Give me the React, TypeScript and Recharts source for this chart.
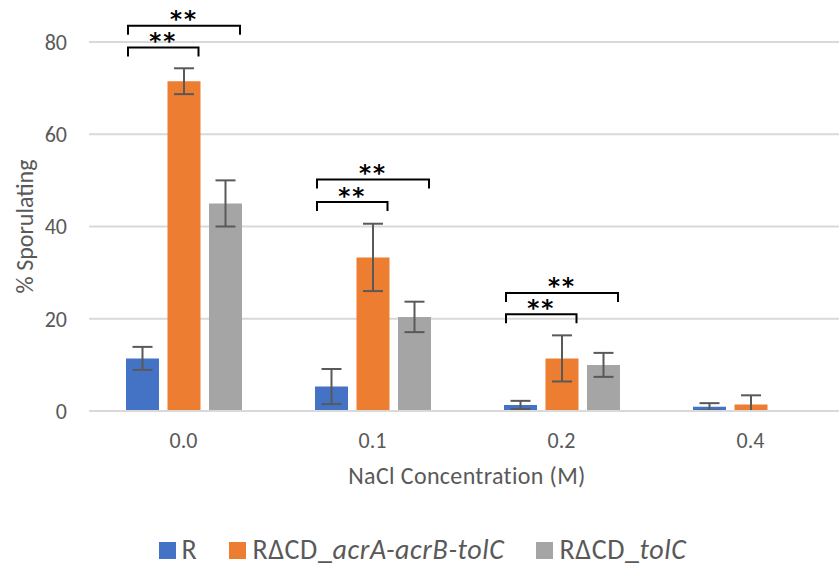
import React from 'react';
import { BarChart, Bar, XAxis, YAxis, CartesianGrid, ErrorBar, Legend, LabelList } from 'recharts';

const categories = ['0.0', '0.1', '0.2', '0.4'];
const rValues = [11.4, 5.3, 1.3, 0.9];
const rErrors = [2.5, 3.8, 0.9, 0.8];
const acrValues = [71.5, 33.3, 11.4, 1.4];
const acrErrors = [2.8, 7.3, 5.0, 2.0];
const tolValues = [45.0, 20.4, 10.0, 0];
const tolErrors = [5.0, 3.3, 2.6, 0];
const yTicks = [0, 20, 40, 60, 80];

// significance brackets: group, compared bar, height (% units)
const bracketConc = ['0.0', '0.0', '0.1', '0.1', '0.2', '0.2'];
const bracketTo = ['acr', 'tol', 'acr', 'tol', 'acr', 'tol'];
const bracketLevel = [78.8, 83.5, 45.3, 50.2, 21.0, 25.6];
const bracketMark = ['**', '**', '**', '**', '**', '**'];

const BLUE = '#4472C4';
const ORANGE = '#ED7D31';
const GRAY = '#A5A5A5';
const TEXT = '#595959';
const BAR_SIZE = 33;
const BAR_GAP = 8.5;

const clampErr = (v: number, e: number) => [Math.min(v, e), e];

const data = categories.map((conc, i) => ({
  conc,
  r: rValues[i],
  rErr: clampErr(rValues[i], rErrors[i]),
  acr: acrValues[i],
  acrErr: acrErrors[i] ? clampErr(acrValues[i], acrErrors[i]) : 0,
  tol: tolValues[i],
  tolErr: tolErrors[i] ? clampErr(tolValues[i], tolErrors[i]) : 0,
}));

const renderBrackets = (props: any) => {
  const vb = props.viewBox && props.viewBox.width !== undefined ? props.viewBox : props;
  const x = Number(vb.x);
  const y = Number(vb.y);
  const width = Number(vb.width);
  const height = Number(vb.height);
  const i = categories.indexOf(props.value);
  const v = acrValues[i];
  if (!v || !height) return null;
  const zero = y + height;
  const k = height / v;
  const items = bracketConc
    .map((c, j) => ({ c, j }))
    .filter(b => b.c === props.value);
  return (
    <g>
      {items.map(({ j }) => {
        const left = x - BAR_GAP - width + 2;
        const right = bracketTo[j] === 'acr' ? x + width - 2 : x + 2 * width + BAR_GAP - 2;
        const ly = zero - bracketLevel[j] * k;
        return (
          <g key={j}>
            <path d={`M${left},${ly + 9}V${ly}H${right}V${ly + 9}`} fill="none" stroke="#000" strokeWidth={2} />
            <text
              x={(left + right) / 2}
              y={ly + 1.5}
              textAnchor="middle"
              fontSize={23}
              fontWeight="bold"
              letterSpacing={2}
              fontFamily="'DejaVu Sans', sans-serif"
              fill="#000"
            >
              {bracketMark[j]}
            </text>
          </g>
        );
      })}
    </g>
  );
};

const legendItems = [
  { color: BLUE, plain: 'R', italic: '' },
  { color: ORANGE, plain: 'RΔCD_', italic: 'acrA-acrB-tolC' },
  { color: GRAY, plain: 'RΔCD_', italic: 'tolC' },
];

const renderLegend = () => (
  <div style={{ height: 44, boxSizing: 'border-box', display: 'flex', justifyContent: 'center', alignItems: 'flex-end' }}>
    <div style={{ display: 'flex', alignItems: 'center', position: 'relative', top: -2 }}>
      {legendItems.map((it, i) => (
        <div key={i} style={{ display: 'flex', alignItems: 'center', marginRight: i < 2 ? 32 : 0 }}>
          <span style={{ width: 17, height: 17, background: it.color, display: 'inline-block', marginRight: 6 }} />
          <span style={{ fontSize: 28, letterSpacing: 0.6, color: TEXT, lineHeight: '30px', whiteSpace: 'nowrap' }}>
            {it.plain}
            {it.italic && <i>{it.italic}</i>}
          </span>
        </div>
      ))}
    </div>
  </div>
);

export default function App() {
  return (
    <div style={{ position: 'absolute', left: 0, top: 0, width: 839, height: 567, overflow: 'hidden', background: '#fff', fontFamily: 'Carlito, Lato, sans-serif' }}>
      <BarChart
        width={850}
        height={567}
        data={data}
        margin={{ top: 42, right: 5, bottom: 0, left: 0 }}
        barGap={BAR_GAP}
        barSize={BAR_SIZE}
      >
        <CartesianGrid vertical={false} stroke="#D9D9D9" strokeWidth={2} />
        <XAxis
          dataKey="conc"
          height={112}
          tickLine={false}
          tickSize={0}
          tickMargin={21}
          axisLine={{ stroke: '#D9D9D9', strokeWidth: 2 }}
          tick={{ fill: TEXT, fontSize: 22 }}
          label={{ value: 'NaCl Concentration (M)', position: 'insideBottom', offset: 39, fill: TEXT, fontSize: 24, style: { letterSpacing: 0.35 } }}
        />
        <YAxis
          width={89}
          domain={[0, 80]}
          ticks={yTicks}
          axisLine={false}
          tickLine={false}
          tickSize={0}
          tickMargin={22}
          tick={{ fill: TEXT, fontSize: 22 }}
          label={{ value: '% Sporulating', angle: -90, position: 'insideLeft', offset: 24, fill: TEXT, fontSize: 24, style: { textAnchor: 'middle' } }}
        />
        <Legend verticalAlign="bottom" content={renderLegend} />
        <Bar dataKey="r" name="R" fill={BLUE} isAnimationActive={false}>
          <ErrorBar dataKey="rErr" width={10} stroke={TEXT} strokeWidth={2} />
        </Bar>
        <Bar dataKey="acr" name="RΔCD_acrA-acrB-tolC" fill={ORANGE} isAnimationActive={false}>
          <ErrorBar dataKey="acrErr" width={10} stroke={TEXT} strokeWidth={2} />
          <LabelList dataKey="conc" content={renderBrackets} />
        </Bar>
        <Bar dataKey="tol" name="RΔCD_tolC" fill={GRAY} isAnimationActive={false}>
          <ErrorBar dataKey="tolErr" width={10} stroke={TEXT} strokeWidth={2} />
        </Bar>
      </BarChart>
    </div>
  );
}
